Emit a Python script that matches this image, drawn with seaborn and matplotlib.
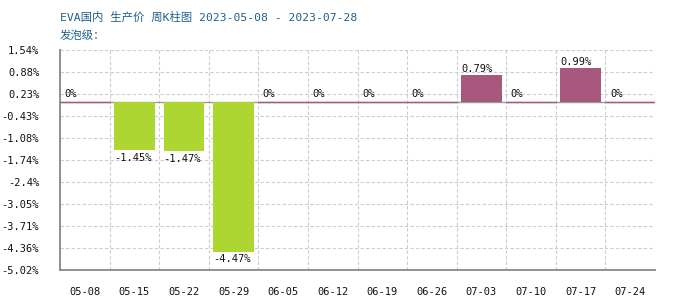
import matplotlib
matplotlib.use("Agg")
import matplotlib.pyplot as plt
import seaborn as sns
import pandas as pd
import numpy as np

weeks = ["05-08", "05-15", "05-22", "05-29", "06-05", "06-12", "06-19", "06-26",
         "07-03", "07-10", "07-17", "07-24"]
changes = [0, -1.45, -1.47, -4.47, 0, 0, 0, 0, 0.79, 0, 0.99, 0]
value_labels = ["0%", "-1.45%", "-1.47%", "-4.47%", "0%", "0%", "0%", "0%",
                "0.79%", "0%", "0.99%", "0%"]
yticks = [1.54, 0.88, 0.23, -0.43, -1.08, -1.74, -2.4, -3.05, -3.71, -4.36, -5.02]
title1 = "EVA国内 生产价 周K柱图 2023-05-08 - 2023-07-28"
title2 = "发泡级："

UP = "#a8577e"
DOWN = "#add633"

sns.set_style("white")
plt.rcParams['font.family'] = ['DejaVu Sans Mono', 'Noto Sans CJK SC']

df = pd.DataFrame({"week": weeks, "chg": changes})
colors = {w: (UP if c >= 0 else DOWN) for w, c in zip(weeks, changes)}

fig = plt.figure(figsize=(7, 3), dpi=100)
ax = fig.add_axes([60/700, 30/300, 595/700, 220/300])

sns.barplot(data=df, x="week", y="chg", hue="week", palette=colors,
            legend=False, width=0.82, ax=ax, saturation=1, zorder=3,
            linewidth=0, edgecolor="none")

ax.set_xlim(-0.5, len(weeks) - 0.5)
ax.set_ylim(min(yticks), max(yticks))
ax.set_yticks(yticks)
ax.set_yticklabels([f"{t:g}%" for t in yticks])
ax.set_xticks(range(len(weeks)))
ax.set_xticklabels(weeks)
ax.set_xticks(np.arange(-0.5, len(weeks), 1), minor=True)

ax.set_xlabel("")
ax.set_ylabel("")
ax.tick_params(axis="both", which="both", length=0, labelsize=7.5, colors="#111111")
ax.tick_params(axis="x", pad=12)
ax.tick_params(axis="y", pad=15)

ax.grid(False)
ax.grid(True, axis="y", which="major", color="#cccccc", linestyle=(0, (3, 2)), linewidth=0.8, zorder=0)
ax.grid(True, axis="x", which="minor", color="#cccccc", linestyle=(0, (3, 2)), linewidth=0.8, zorder=0)

for s in ["top", "right"]:
    ax.spines[s].set_visible(False)
for s in ["left", "bottom"]:
    ax.spines[s].set_color("#888888")
    ax.spines[s].set_linewidth(1.3)

ax.axhline(0, color="#999999", linewidth=1, zorder=2)

half = 0.41
for i, (c, lab) in enumerate(zip(changes, value_labels)):
    if c == 0:
        ax.hlines(0, i - 0.5, i + 0.5, color=UP, linewidth=1, zorder=4)
        ax.annotate(lab, (i - half, 0), xytext=(0, 2), textcoords="offset points",
                    ha="left", va="bottom", fontsize=7.5, color="#111111")
    elif c > 0:
        ax.annotate(lab, (i - half, c), xytext=(0, 1), textcoords="offset points",
                    ha="left", va="bottom", fontsize=7.5, color="#111111")
    else:
        ax.annotate(lab, (i - half, c), xytext=(0, -2), textcoords="offset points",
                    ha="left", va="top", fontsize=7.5, color="#111111")

fig.text(60/700, 1 - 17/300, title1, fontsize=8.2, color="#1f5f8f", va="center", ha="left")
fig.text(60/700, 1 - 36/300, title2, fontsize=8.2, color="#1f5f8f", va="center", ha="left")

fig.savefig("out.png", dpi=100)
